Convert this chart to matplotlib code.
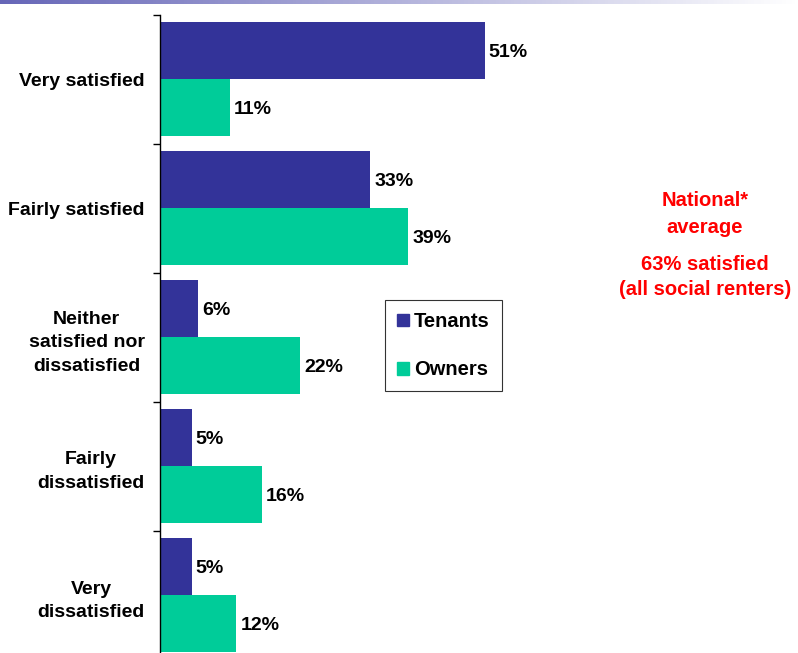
import numpy as np
import matplotlib
matplotlib.use("Agg")
import matplotlib.pyplot as plt
from matplotlib.patches import Patch

plt.rcParams['font.family'] = ['Liberation Sans', 'DejaVu Sans']

categories = ["Very satisfied", "Fairly satisfied", "Neither\nsatisfied nor\ndissatisfied",
              "Fairly\ndissatisfied", "Very\ndissatisfied"]
tenants = [51, 33, 6, 5, 5]
owners = [11, 39, 22, 16, 12]
series_names = ["Tenants", "Owners"]
tenant_color = "#333399"
owner_color = "#00CC99"

W, H = 798, 653
fig = plt.figure(figsize=(W / 100, H / 100), dpi=100)

# thin gradient band along the top edge
band = fig.add_axes([0, 1 - 4 / H, 1, 4 / H])
grad = np.linspace(0, 1, 256)
start = np.array([0.40, 0.40, 0.72])
cols = start[None, :] * (1 - grad[:, None]) + np.ones(3)[None, :] * grad[:, None]
band.imshow(cols[None, :, :], aspect="auto", extent=[0, 1, 0, 1])
band.set_axis_off()

top_px, cat_px = 15, 129
n = len(categories)
bottom_px = top_px + n * cat_px
ax = fig.add_axes([160 / W, 1 - bottom_px / H, 637 / W, n * cat_px / H])

y = np.arange(n)
bh = 0.44
ax.barh(y - bh / 2 - 0.005, tenants, height=bh, color=tenant_color, label=series_names[0])
ax.barh(y + bh / 2 - 0.005, owners, height=bh, color=owner_color, label=series_names[1])

val_fs = 14
for yi, v in zip(y, tenants):
    ax.text(v + 0.6, yi - bh / 2 + 0.01, f"{v}%", va="center", ha="left",
            fontsize=val_fs, fontweight="bold")
for yi, v in zip(y, owners):
    ax.text(v + 0.6, yi + bh / 2 + 0.01, f"{v}%", va="center", ha="left",
            fontsize=val_fs, fontweight="bold")

ax.set_xlim(0, 100)
ax.set_ylim(n - 0.5, -0.5)
for s in ("top", "right", "bottom"):
    ax.spines[s].set_visible(False)
ax.spines["left"].set_linewidth(1.0)
ax.set_xticks([])
ax.set_yticks(np.arange(n + 1) - 0.5, minor=True)
ax.set_yticks(y)
ax.set_yticklabels(categories, fontsize=14, fontweight="bold", multialignment="center",
                   linespacing=1.5)
ax.tick_params(axis="y", which="major", length=0, pad=11)
ax.tick_params(axis="y", which="minor", length=5, width=1)

handles = [Patch(color=tenant_color), Patch(color=owner_color)]
leg = fig.legend(handles, series_names, loc="upper left",
                 bbox_to_anchor=(385 / W, 1 - 300 / H), borderaxespad=0,
                 prop={"size": 14.5, "weight": "bold"}, frameon=True, fancybox=False,
                 handlelength=0.6, handleheight=0.6, handletextpad=0.25,
                 labelspacing=1.45, borderpad=0.6)
leg.get_frame().set_edgecolor("black")
leg.get_frame().set_linewidth(0.8)

red = "#FF0000"
fig.text(705 / W, 1 - 214 / H, "National*\naverage", color=red, fontsize=14.5,
         fontweight="bold", ha="center", va="center", linespacing=1.55)
fig.text(705 / W, 1 - 277 / H, "63% satisfied\n(all social renters)", color=red,
         fontsize=14.5, fontweight="bold", ha="center", va="center", linespacing=1.35)

fig.savefig("out.png", dpi=100)
